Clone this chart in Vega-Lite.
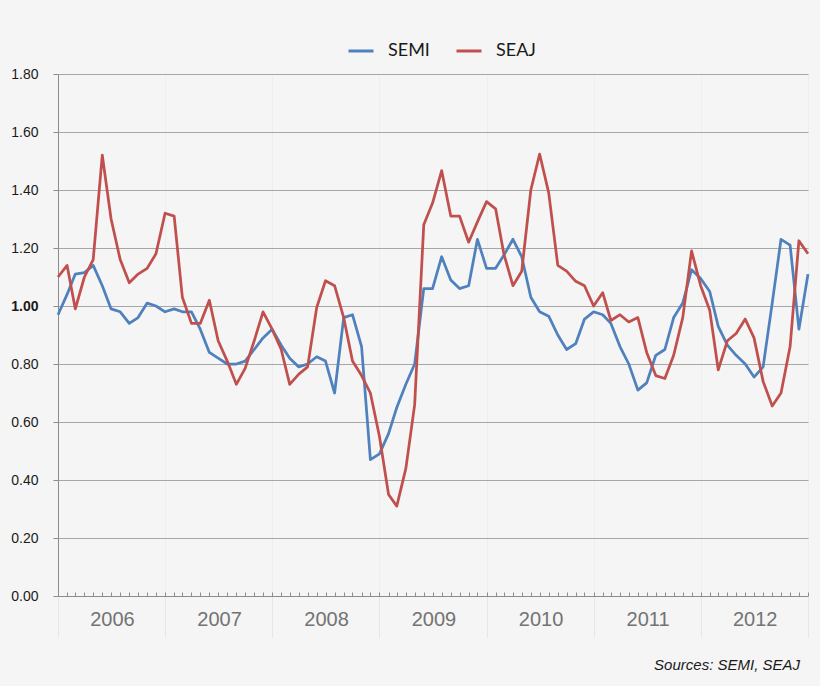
{
  "$schema": "https://vega.github.io/schema/vega-lite/v6.json",
  "description": "SEMI and SEAJ book-to-bill ratios, monthly 2006-2012.",
  "width": 750,
  "height": 522,
  "autosize": "none",
  "padding": {"left": 58, "top": 74, "right": 12, "bottom": 90},
  "background": "#f5f5f5",
  "config": {
    "view": {"stroke": null},
    "font": "Liberation Sans"
  },
  "title": {
    "text": "Sources: SEMI, SEAJ",
    "orient": "bottom",
    "anchor": "end",
    "frame": "group",
    "offset": 20,
    "dx": -8,
    "fontSize": 15,
    "fontStyle": "italic",
    "fontWeight": "normal",
    "color": "#1a1a1a"
  },
  "data": {
    "values": [
      {"date": "2006/01/01", "series": "SEMI", "value": 0.97},
      {"date": "2006/02/01", "series": "SEMI", "value": 1.04},
      {"date": "2006/03/01", "series": "SEMI", "value": 1.11},
      {"date": "2006/04/01", "series": "SEMI", "value": 1.115},
      {"date": "2006/05/01", "series": "SEMI", "value": 1.14},
      {"date": "2006/06/01", "series": "SEMI", "value": 1.07},
      {"date": "2006/07/01", "series": "SEMI", "value": 0.99},
      {"date": "2006/08/01", "series": "SEMI", "value": 0.98},
      {"date": "2006/09/01", "series": "SEMI", "value": 0.94},
      {"date": "2006/10/01", "series": "SEMI", "value": 0.96},
      {"date": "2006/11/01", "series": "SEMI", "value": 1.01},
      {"date": "2006/12/01", "series": "SEMI", "value": 1.0},
      {"date": "2007/01/01", "series": "SEMI", "value": 0.98},
      {"date": "2007/02/01", "series": "SEMI", "value": 0.99},
      {"date": "2007/03/01", "series": "SEMI", "value": 0.98},
      {"date": "2007/04/01", "series": "SEMI", "value": 0.98},
      {"date": "2007/05/01", "series": "SEMI", "value": 0.92},
      {"date": "2007/06/01", "series": "SEMI", "value": 0.84},
      {"date": "2007/07/01", "series": "SEMI", "value": 0.82},
      {"date": "2007/08/01", "series": "SEMI", "value": 0.8},
      {"date": "2007/09/01", "series": "SEMI", "value": 0.8},
      {"date": "2007/10/01", "series": "SEMI", "value": 0.81},
      {"date": "2007/11/01", "series": "SEMI", "value": 0.85},
      {"date": "2007/12/01", "series": "SEMI", "value": 0.89},
      {"date": "2008/01/01", "series": "SEMI", "value": 0.92},
      {"date": "2008/02/01", "series": "SEMI", "value": 0.865},
      {"date": "2008/03/01", "series": "SEMI", "value": 0.82},
      {"date": "2008/04/01", "series": "SEMI", "value": 0.79},
      {"date": "2008/05/01", "series": "SEMI", "value": 0.8},
      {"date": "2008/06/01", "series": "SEMI", "value": 0.825},
      {"date": "2008/07/01", "series": "SEMI", "value": 0.81},
      {"date": "2008/08/01", "series": "SEMI", "value": 0.7},
      {"date": "2008/09/01", "series": "SEMI", "value": 0.96},
      {"date": "2008/10/01", "series": "SEMI", "value": 0.97},
      {"date": "2008/11/01", "series": "SEMI", "value": 0.86},
      {"date": "2008/12/01", "series": "SEMI", "value": 0.47},
      {"date": "2009/01/01", "series": "SEMI", "value": 0.49},
      {"date": "2009/02/01", "series": "SEMI", "value": 0.56},
      {"date": "2009/03/01", "series": "SEMI", "value": 0.65},
      {"date": "2009/04/01", "series": "SEMI", "value": 0.73},
      {"date": "2009/05/01", "series": "SEMI", "value": 0.8},
      {"date": "2009/06/01", "series": "SEMI", "value": 1.06},
      {"date": "2009/07/01", "series": "SEMI", "value": 1.06},
      {"date": "2009/08/01", "series": "SEMI", "value": 1.17},
      {"date": "2009/09/01", "series": "SEMI", "value": 1.09},
      {"date": "2009/10/01", "series": "SEMI", "value": 1.06},
      {"date": "2009/11/01", "series": "SEMI", "value": 1.07},
      {"date": "2009/12/01", "series": "SEMI", "value": 1.23},
      {"date": "2010/01/01", "series": "SEMI", "value": 1.13},
      {"date": "2010/02/01", "series": "SEMI", "value": 1.13},
      {"date": "2010/03/01", "series": "SEMI", "value": 1.175},
      {"date": "2010/04/01", "series": "SEMI", "value": 1.23},
      {"date": "2010/05/01", "series": "SEMI", "value": 1.17},
      {"date": "2010/06/01", "series": "SEMI", "value": 1.03},
      {"date": "2010/07/01", "series": "SEMI", "value": 0.98},
      {"date": "2010/08/01", "series": "SEMI", "value": 0.965},
      {"date": "2010/09/01", "series": "SEMI", "value": 0.9},
      {"date": "2010/10/01", "series": "SEMI", "value": 0.85},
      {"date": "2010/11/01", "series": "SEMI", "value": 0.87},
      {"date": "2010/12/01", "series": "SEMI", "value": 0.955},
      {"date": "2011/01/01", "series": "SEMI", "value": 0.98},
      {"date": "2011/02/01", "series": "SEMI", "value": 0.97},
      {"date": "2011/03/01", "series": "SEMI", "value": 0.94},
      {"date": "2011/04/01", "series": "SEMI", "value": 0.86},
      {"date": "2011/05/01", "series": "SEMI", "value": 0.8},
      {"date": "2011/06/01", "series": "SEMI", "value": 0.71},
      {"date": "2011/07/01", "series": "SEMI", "value": 0.735},
      {"date": "2011/08/01", "series": "SEMI", "value": 0.83},
      {"date": "2011/09/01", "series": "SEMI", "value": 0.85},
      {"date": "2011/10/01", "series": "SEMI", "value": 0.96},
      {"date": "2011/11/01", "series": "SEMI", "value": 1.01},
      {"date": "2011/12/01", "series": "SEMI", "value": 1.125},
      {"date": "2012/01/01", "series": "SEMI", "value": 1.095},
      {"date": "2012/02/01", "series": "SEMI", "value": 1.05},
      {"date": "2012/03/01", "series": "SEMI", "value": 0.93},
      {"date": "2012/04/01", "series": "SEMI", "value": 0.865},
      {"date": "2012/05/01", "series": "SEMI", "value": 0.83},
      {"date": "2012/06/01", "series": "SEMI", "value": 0.8},
      {"date": "2012/07/01", "series": "SEMI", "value": 0.755},
      {"date": "2012/08/01", "series": "SEMI", "value": 0.79},
      {"date": "2012/09/01", "series": "SEMI", "value": 1.01},
      {"date": "2012/10/01", "series": "SEMI", "value": 1.23},
      {"date": "2012/11/01", "series": "SEMI", "value": 1.21},
      {"date": "2012/12/01", "series": "SEMI", "value": 0.92},
      {"date": "2013/01/01", "series": "SEMI", "value": 1.11},
      {"date": "2006/01/01", "series": "SEAJ", "value": 1.1},
      {"date": "2006/02/01", "series": "SEAJ", "value": 1.14},
      {"date": "2006/03/01", "series": "SEAJ", "value": 0.99},
      {"date": "2006/04/01", "series": "SEAJ", "value": 1.1},
      {"date": "2006/05/01", "series": "SEAJ", "value": 1.16},
      {"date": "2006/06/01", "series": "SEAJ", "value": 1.52},
      {"date": "2006/07/01", "series": "SEAJ", "value": 1.3},
      {"date": "2006/08/01", "series": "SEAJ", "value": 1.16},
      {"date": "2006/09/01", "series": "SEAJ", "value": 1.08},
      {"date": "2006/10/01", "series": "SEAJ", "value": 1.11},
      {"date": "2006/11/01", "series": "SEAJ", "value": 1.13},
      {"date": "2006/12/01", "series": "SEAJ", "value": 1.18},
      {"date": "2007/01/01", "series": "SEAJ", "value": 1.32},
      {"date": "2007/02/01", "series": "SEAJ", "value": 1.31},
      {"date": "2007/03/01", "series": "SEAJ", "value": 1.03},
      {"date": "2007/04/01", "series": "SEAJ", "value": 0.94},
      {"date": "2007/05/01", "series": "SEAJ", "value": 0.94},
      {"date": "2007/06/01", "series": "SEAJ", "value": 1.02},
      {"date": "2007/07/01", "series": "SEAJ", "value": 0.88},
      {"date": "2007/08/01", "series": "SEAJ", "value": 0.81},
      {"date": "2007/09/01", "series": "SEAJ", "value": 0.73},
      {"date": "2007/10/01", "series": "SEAJ", "value": 0.785},
      {"date": "2007/11/01", "series": "SEAJ", "value": 0.88},
      {"date": "2007/12/01", "series": "SEAJ", "value": 0.98},
      {"date": "2008/01/01", "series": "SEAJ", "value": 0.92},
      {"date": "2008/02/01", "series": "SEAJ", "value": 0.85},
      {"date": "2008/03/01", "series": "SEAJ", "value": 0.73},
      {"date": "2008/04/01", "series": "SEAJ", "value": 0.765},
      {"date": "2008/05/01", "series": "SEAJ", "value": 0.79},
      {"date": "2008/06/01", "series": "SEAJ", "value": 0.995},
      {"date": "2008/07/01", "series": "SEAJ", "value": 1.087},
      {"date": "2008/08/01", "series": "SEAJ", "value": 1.07},
      {"date": "2008/09/01", "series": "SEAJ", "value": 0.96},
      {"date": "2008/10/01", "series": "SEAJ", "value": 0.81},
      {"date": "2008/11/01", "series": "SEAJ", "value": 0.76},
      {"date": "2008/12/01", "series": "SEAJ", "value": 0.7},
      {"date": "2009/01/01", "series": "SEAJ", "value": 0.55},
      {"date": "2009/02/01", "series": "SEAJ", "value": 0.35},
      {"date": "2009/03/01", "series": "SEAJ", "value": 0.31},
      {"date": "2009/04/01", "series": "SEAJ", "value": 0.44},
      {"date": "2009/05/01", "series": "SEAJ", "value": 0.66},
      {"date": "2009/06/01", "series": "SEAJ", "value": 1.28},
      {"date": "2009/07/01", "series": "SEAJ", "value": 1.355},
      {"date": "2009/08/01", "series": "SEAJ", "value": 1.467},
      {"date": "2009/09/01", "series": "SEAJ", "value": 1.31},
      {"date": "2009/10/01", "series": "SEAJ", "value": 1.31},
      {"date": "2009/11/01", "series": "SEAJ", "value": 1.22},
      {"date": "2009/12/01", "series": "SEAJ", "value": 1.29},
      {"date": "2010/01/01", "series": "SEAJ", "value": 1.36},
      {"date": "2010/02/01", "series": "SEAJ", "value": 1.335},
      {"date": "2010/03/01", "series": "SEAJ", "value": 1.18},
      {"date": "2010/04/01", "series": "SEAJ", "value": 1.07},
      {"date": "2010/05/01", "series": "SEAJ", "value": 1.12},
      {"date": "2010/06/01", "series": "SEAJ", "value": 1.4},
      {"date": "2010/07/01", "series": "SEAJ", "value": 1.524},
      {"date": "2010/08/01", "series": "SEAJ", "value": 1.39},
      {"date": "2010/09/01", "series": "SEAJ", "value": 1.14},
      {"date": "2010/10/01", "series": "SEAJ", "value": 1.12},
      {"date": "2010/11/01", "series": "SEAJ", "value": 1.085},
      {"date": "2010/12/01", "series": "SEAJ", "value": 1.07},
      {"date": "2011/01/01", "series": "SEAJ", "value": 1.0},
      {"date": "2011/02/01", "series": "SEAJ", "value": 1.046},
      {"date": "2011/03/01", "series": "SEAJ", "value": 0.95},
      {"date": "2011/04/01", "series": "SEAJ", "value": 0.97},
      {"date": "2011/05/01", "series": "SEAJ", "value": 0.945},
      {"date": "2011/06/01", "series": "SEAJ", "value": 0.96},
      {"date": "2011/07/01", "series": "SEAJ", "value": 0.84},
      {"date": "2011/08/01", "series": "SEAJ", "value": 0.76},
      {"date": "2011/09/01", "series": "SEAJ", "value": 0.75},
      {"date": "2011/10/01", "series": "SEAJ", "value": 0.83},
      {"date": "2011/11/01", "series": "SEAJ", "value": 0.96},
      {"date": "2011/12/01", "series": "SEAJ", "value": 1.19},
      {"date": "2012/01/01", "series": "SEAJ", "value": 1.07},
      {"date": "2012/02/01", "series": "SEAJ", "value": 0.985},
      {"date": "2012/03/01", "series": "SEAJ", "value": 0.78},
      {"date": "2012/04/01", "series": "SEAJ", "value": 0.88},
      {"date": "2012/05/01", "series": "SEAJ", "value": 0.905},
      {"date": "2012/06/01", "series": "SEAJ", "value": 0.955},
      {"date": "2012/07/01", "series": "SEAJ", "value": 0.89},
      {"date": "2012/08/01", "series": "SEAJ", "value": 0.74},
      {"date": "2012/09/01", "series": "SEAJ", "value": 0.655},
      {"date": "2012/10/01", "series": "SEAJ", "value": 0.7},
      {"date": "2012/11/01", "series": "SEAJ", "value": 0.86},
      {"date": "2012/12/01", "series": "SEAJ", "value": 1.225},
      {"date": "2013/01/01", "series": "SEAJ", "value": 1.18}
    ]
  },
  "layer": [
    {
      "mark": {"type": "rule", "opacity": 0},
      "encoding": {
        "x": {
          "field": "date",
          "type": "temporal",
          "scale": {"domain": [{"year": 2006, "month": 1, "date": 1}, {"year": 2013, "month": 1, "date": 1}]},
          "axis": {
            "orient": "bottom",
            "title": null,
            "labels": false,
            "domain": false,
            "grid": false,
            "tickCount": {"interval": "month", "step": 1},
            "tickSize": 4,
            "tickColor": "#8c8c8c",
            "tickWidth": 1,
            "offset": -4
          }
        }
      }
    },
    {
      "mark": {"type": "line", "strokeWidth": 2.75, "strokeJoin": "round"},
      "encoding": {
        "x": {
          "field": "date",
          "type": "temporal",
          "axis": {
            "orient": "bottom",
            "title": null,
            "values": [
              {"year": 2006, "month": 1, "date": 1},
              {"year": 2007, "month": 1, "date": 1},
              {"year": 2008, "month": 1, "date": 1},
              {"year": 2009, "month": 1, "date": 1},
              {"year": 2010, "month": 1, "date": 1},
              {"year": 2011, "month": 1, "date": 1},
              {"year": 2012, "month": 1, "date": 1},
              {"year": 2013, "month": 1, "date": 1}
            ],
            "labelExpr": "year(datum.value) < 2013 ? timeFormat(datum.value, '%Y') : ''",
            "labelOffset": 54,
            "labelPadding": -28,
            "labelFlush": false,
            "labelOverlap": false,
            "labelBound": false,
            "labelFontSize": 20,
            "labelColor": "#737373",
            "tickSize": 41,
            "tickColor": "#e6e6e6",
            "grid": true,
            "gridColor": "#eeeeee",
            "domainColor": "#8c8c8c",
            "domainWidth": 1
          }
        },
        "y": {
          "field": "value",
          "type": "quantitative",
          "scale": {"domain": [0, 1.8]},
          "axis": {
            "title": null,
            "values": [0, 0.2, 0.4, 0.6, 0.8, 1.0, 1.2, 1.4, 1.6, 1.8],
            "format": ".2f",
            "labelFontSize": 14,
            "labelColor": "#1a1a1a",
            "labelPadding": 15,
            "labelFontWeight": {"condition": {"test": "datum.value === 1", "value": "bold"}, "value": "normal"},
            "tickSize": 5,
            "tickColor": "#8c8c8c",
            "domainColor": "#8c8c8c",
            "gridColor": "#a6a6a6",
            "gridWidth": 1
          }
        },
        "color": {
          "field": "series",
          "type": "nominal",
          "scale": {"domain": ["SEMI", "SEAJ"], "range": ["#4f81bd", "#c0504d"]},
          "legend": {
            "title": null,
            "orient": "none",
            "direction": "horizontal",
            "legendX": 289,
            "legendY": -37,
            "symbolType": "stroke",
            "symbolSize": 625,
            "symbolStrokeWidth": 3,
            "labelFont": "Lato",
            "labelFontSize": 18,
            "labelColor": "#1a1a1a",
            "labelOffset": 13,
            "columnPadding": 20
          }
        }
      }
    }
  ],
  "resolve": {"axis": {"x": "independent"}}
}
